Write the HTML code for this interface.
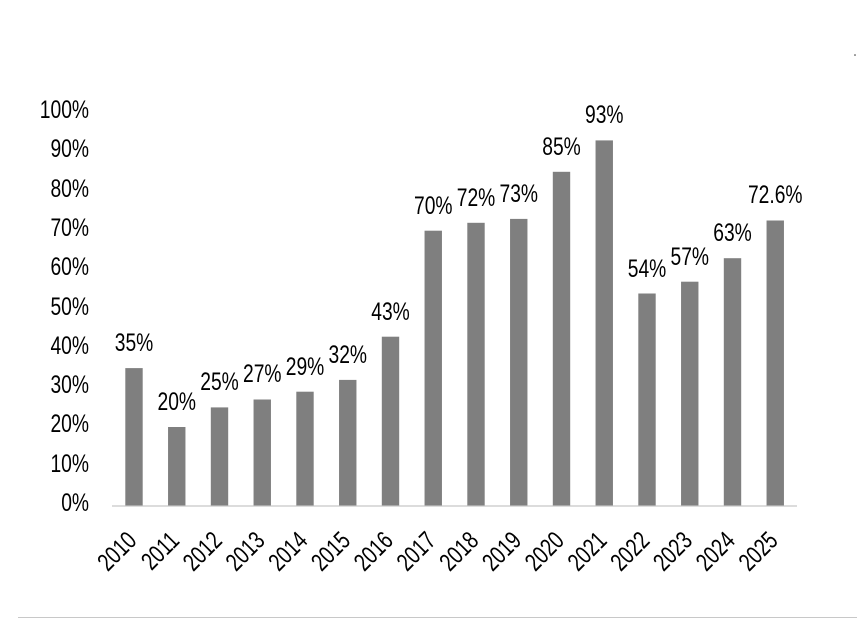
<!DOCTYPE html>
<html><head><style>
html,body{margin:0;padding:0;background:#fff;}
svg text{font-family:"Liberation Sans",sans-serif;fill:#000;font-size:25px;}
</style></head><body>
<svg width="857" height="619" xmlns="http://www.w3.org/2000/svg">
<rect width="857" height="619" fill="#fff"/>
<circle cx="855" cy="55" r="0.8" fill="#333"/>
<line x1="18" y1="617.5" x2="857" y2="617.5" stroke="#c8c8c8" stroke-width="1"/>
<g text-anchor="end">
<text transform="translate(89,511) scale(0.77,1)">0%</text>
<text transform="translate(89,472) scale(0.77,1)">10%</text>
<text transform="translate(89,432) scale(0.77,1)">20%</text>
<text transform="translate(89,393) scale(0.77,1)">30%</text>
<text transform="translate(89,354) scale(0.77,1)">40%</text>
<text transform="translate(89,315) scale(0.77,1)">50%</text>
<text transform="translate(89,275) scale(0.77,1)">60%</text>
<text transform="translate(89,236) scale(0.77,1)">70%</text>
<text transform="translate(89,197) scale(0.77,1)">80%</text>
<text transform="translate(89,157) scale(0.77,1)">90%</text>
<text transform="translate(89,118) scale(0.77,1)">100%</text>
</g>
<line x1="112" y1="506" x2="797" y2="506" stroke="#d0d0d0" stroke-width="1.5"/>
<g fill="#7f7f7f">
<rect x="125.3" y="368.1" width="17.4" height="137.4"/>
<rect x="168.05" y="427" width="17.4" height="78.5"/>
<rect x="210.8" y="407.4" width="17.4" height="98.1"/>
<rect x="253.55" y="399.5" width="17.4" height="106"/>
<rect x="296.3" y="391.7" width="17.4" height="113.8"/>
<rect x="339.05" y="379.9" width="17.4" height="125.6"/>
<rect x="381.8" y="336.7" width="17.4" height="168.8"/>
<rect x="424.55" y="230.7" width="17.4" height="274.8"/>
<rect x="467.3" y="222.8" width="17.4" height="282.7"/>
<rect x="510.05" y="218.9" width="17.4" height="286.6"/>
<rect x="552.8" y="171.8" width="17.4" height="333.7"/>
<rect x="595.55" y="140.4" width="17.4" height="365.1"/>
<rect x="638.3" y="293.5" width="17.4" height="212"/>
<rect x="681.05" y="281.7" width="17.4" height="223.8"/>
<rect x="723.8" y="258.2" width="17.4" height="247.3"/>
<rect x="766.55" y="220.5" width="17.4" height="285"/>
</g>
<g text-anchor="middle">
<text transform="translate(134,351) scale(0.77,1)">35%</text>
<text transform="translate(176.75,410) scale(0.77,1)">20%</text>
<text transform="translate(219.5,390) scale(0.77,1)">25%</text>
<text transform="translate(262.25,382) scale(0.77,1)">27%</text>
<text transform="translate(305,375) scale(0.77,1)">29%</text>
<text transform="translate(347.75,363) scale(0.77,1)">32%</text>
<text transform="translate(390.5,320) scale(0.77,1)">43%</text>
<text transform="translate(433.25,214) scale(0.77,1)">70%</text>
<text transform="translate(476,206) scale(0.77,1)">72%</text>
<text transform="translate(518.75,202) scale(0.77,1)">73%</text>
<text transform="translate(561.5,155) scale(0.77,1)">85%</text>
<text transform="translate(604.25,123) scale(0.77,1)">93%</text>
<text transform="translate(647,277) scale(0.77,1)">54%</text>
<text transform="translate(689.75,265) scale(0.77,1)">57%</text>
<text transform="translate(732.5,241) scale(0.77,1)">63%</text>
<text transform="translate(775.25,203) scale(0.77,1)">72.6%</text>
</g>
<g text-anchor="end">
<text transform="translate(138,542) rotate(-45) scale(0.77,1)">2010</text>
<text transform="translate(180.75,542) rotate(-45) scale(0.77,1)">2011</text>
<text transform="translate(223.5,542) rotate(-45) scale(0.77,1)">2012</text>
<text transform="translate(266.25,542) rotate(-45) scale(0.77,1)">2013</text>
<text transform="translate(309,542) rotate(-45) scale(0.77,1)">2014</text>
<text transform="translate(351.75,542) rotate(-45) scale(0.77,1)">2015</text>
<text transform="translate(394.5,542) rotate(-45) scale(0.77,1)">2016</text>
<text transform="translate(437.25,542) rotate(-45) scale(0.77,1)">2017</text>
<text transform="translate(480,542) rotate(-45) scale(0.77,1)">2018</text>
<text transform="translate(522.75,542) rotate(-45) scale(0.77,1)">2019</text>
<text transform="translate(565.5,542) rotate(-45) scale(0.77,1)">2020</text>
<text transform="translate(608.25,542) rotate(-45) scale(0.77,1)">2021</text>
<text transform="translate(651,542) rotate(-45) scale(0.77,1)">2022</text>
<text transform="translate(693.75,542) rotate(-45) scale(0.77,1)">2023</text>
<text transform="translate(736.5,542) rotate(-45) scale(0.77,1)">2024</text>
<text transform="translate(779.25,542) rotate(-45) scale(0.77,1)">2025</text>
</g>
</svg>
</body></html>
